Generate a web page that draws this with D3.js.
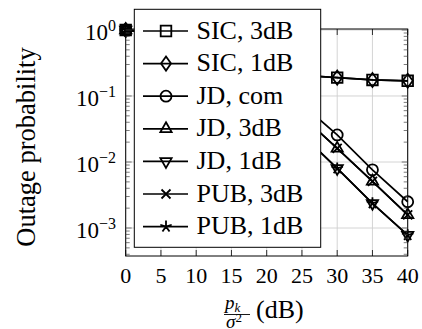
<!DOCTYPE html>
<html><head><meta charset="utf-8">
<script src="https://cdn.jsdelivr.net/npm/d3@7"></script>
<style>
html,body{margin:0;padding:0;background:#fff;}
svg{display:block;}
text{font-family:"Liberation Serif","Times New Roman",serif;fill:#000;}
</style></head>
<body>
<svg id="chart" width="422" height="329"></svg>
<script>
// ---- data ----
const snr = [0, 5, 10, 15, 20, 25, 30, 35, 40];
const sic3dB = [1, 0.85, 0.55, 0.35, 0.25, 0.205, 0.19, 0.175, 0.17];
const sic1dB = [1, 0.85, 0.55, 0.35, 0.25, 0.205, 0.19, 0.175, 0.17];
const jdCom  = [1, 0.95, 0.75, 0.5, 0.22, 0.075, 0.0257, 0.0076, 0.0025];
const jd3dB  = [1, 0.9, 0.65, 0.35, 0.15, 0.05, 0.0161, 0.0051, 0.00158];
const jd1dB  = [1, 0.85, 0.5, 0.22, 0.08, 0.026, 0.008, 0.00237, 0.00078];
const pub3dB = [1, 0.9, 0.65, 0.35, 0.15, 0.05, 0.0161, 0.0051, 0.00158];
const pub1dB = [1, 0.85, 0.5, 0.22, 0.08, 0.026, 0.008, 0.00237, 0.00078];
const seriesNames = ["SIC, 3dB", "SIC, 1dB", "JD, com", "JD, 3dB", "JD, 1dB", "PUB, 3dB", "PUB, 1dB"];
const seriesMarks = ["square", "diamond", "circle", "triUp", "triDown", "cross", "star"];
const xTicks = [0, 5, 10, 15, 20, 25, 30, 35, 40];
const yTickExps = [0, -1, -2, -3];

const seriesValues = [sic3dB, sic1dB, jdCom, jd3dB, jd1dB, pub3dB, pub1dB];

// ---- layout ----
const L = 125.7, R = 407.7, T = 29, B = 256;
const svg = d3.select("#chart");
const x = d3.scaleLinear().domain([0, 40]).range([L, R]);
const y = d3.scaleLog().domain([Math.pow(10, -3.424), Math.pow(10, 0.015)]).range([B, T]);

// grid
const grid = svg.append("g").attr("stroke", "#cfcfcf").attr("stroke-width", 0.9);
xTicks.forEach(t => grid.append("line").attr("x1", x(t)).attr("x2", x(t)).attr("y1", T).attr("y2", B));
yTickExps.forEach(e => grid.append("line").attr("x1", L).attr("x2", R).attr("y1", y(Math.pow(10, e))).attr("y2", y(Math.pow(10, e))));

// markers
function markerPath(kind) {
  const p = d3.path();
  if (kind === "square") { p.rect(-5.3, -5.3, 10.6, 10.6); }
  else if (kind === "diamond") { p.moveTo(0, -7); p.lineTo(5, 0); p.lineTo(0, 7); p.lineTo(-5, 0); p.closePath(); }
  else if (kind === "circle") { p.moveTo(5.5, 0); p.arc(0, 0, 5.5, 0, 2 * Math.PI); }
  else if (kind === "triUp" || kind === "triDown") {
    const s = kind === "triUp" ? -1 : 1, r = 6.5;
    p.moveTo(0, s * r);
    p.lineTo(r * Math.cos(Math.PI / 6), -s * r * 0.5);
    p.lineTo(-r * Math.cos(Math.PI / 6), -s * r * 0.5);
    p.closePath();
  }
  else if (kind === "cross") { const r = 4.5; p.moveTo(-r, -r); p.lineTo(r, r); p.moveTo(-r, r); p.lineTo(r, -r); }
  else if (kind === "star") {
    const r = 6;
    for (let k = 0; k < 5; k++) { const a = -Math.PI / 2 + k * 2 * Math.PI / 5; p.moveTo(0, 0); p.lineTo(r * Math.cos(a), r * Math.sin(a)); }
  }
  return p.toString();
}

const line = d3.line().x(d => x(d[0])).y(d => y(d[1]));
const plot = svg.append("g");
seriesValues.forEach((vals, i) => {
  const pts = snr.map((s, j) => [s, vals[j]]);
  plot.append("path").attr("d", line(pts)).attr("fill", "none").attr("stroke", "#000").attr("stroke-width", 1.7);
  plot.selectAll(null).data(pts).enter().append("path")
    .attr("transform", d => `translate(${x(d[0])},${y(d[1])})`)
    .attr("d", markerPath(seriesMarks[i]))
    .attr("fill", "none").attr("stroke", "#000").attr("stroke-width", 1.8);
});

// axes frame & ticks
const ax = svg.append("g").attr("stroke", "#000");
ax.append("rect").attr("x", L).attr("y", T).attr("width", R - L).attr("height", B - T).attr("fill", "none").attr("stroke-width", 1);
xTicks.forEach(t => {
  ax.append("line").attr("x1", x(t)).attr("x2", x(t)).attr("y1", B).attr("y2", B - 6).attr("stroke-width", 0.8);
  ax.append("line").attr("x1", x(t)).attr("x2", x(t)).attr("y1", T).attr("y2", T + 6).attr("stroke-width", 0.8);
});
const [ymin, ymax] = y.domain();
for (let e = -4; e <= 0; e++) {
  for (let m = 1; m <= 9; m++) {
    const v = m * Math.pow(10, e);
    if (v < ymin || v > ymax) continue;
    const len = m === 1 ? 6 : 4;
    ax.append("line").attr("x1", L).attr("x2", L + len).attr("y1", y(v)).attr("y2", y(v)).attr("stroke-width", 0.7).attr("stroke", "#444");
    ax.append("line").attr("x1", R).attr("x2", R - len).attr("y1", y(v)).attr("y2", y(v)).attr("stroke-width", 0.7).attr("stroke", "#444");
  }
}

// tick labels
svg.append("g").selectAll("text").data(xTicks).enter().append("text")
  .attr("x", d => x(d)).attr("y", 283).attr("text-anchor", "middle")
  .attr("font-size", 22).text(d => d);
const yl = svg.append("g");
yTickExps.forEach(e => {
  const t = yl.append("text").attr("x", 116).attr("y", y(Math.pow(10, e)) + 10).attr("text-anchor", "end").attr("font-size", 23);
  t.append("tspan").text("10");
  t.append("tspan").attr("dy", -9).attr("font-size", 16).text(e === 0 ? "0" : "\u2212" + (-e));
});

// axis titles
svg.append("text").attr("transform", "translate(35,147) rotate(-90)").attr("text-anchor", "middle")
  .attr("font-size", 26.5).text("Outage probability");
const xt = svg.append("g");
xt.append("text").attr("x", 225).attr("y", 309).attr("font-size", 19).attr("font-style", "italic")
  .text("p").append("tspan").attr("dy", 3).attr("font-size", 13).text("k");
xt.append("line").attr("x1", 224).attr("x2", 250).attr("y1", 314.5).attr("y2", 314.5).attr("stroke", "#000").attr("stroke-width", 0.9);
xt.append("text").attr("x", 226).attr("y", 327.5).attr("font-size", 19).attr("font-style", "italic")
  .text("σ").append("tspan").attr("dy", -6).attr("font-size", 13).attr("font-style", "normal").text("2");
xt.append("text").attr("x", 256).attr("y", 318).attr("font-size", 26).text("(dB)");

// legend
const lg = svg.append("g");
lg.append("rect").attr("x", 134.3).attr("y", 9.3).attr("width", 186.4).attr("height", 238).attr("fill", "#fff").attr("stroke", "#000").attr("stroke-width", 1);
seriesNames.forEach((name, i) => {
  const cy = 31 + i * 32.6;
  lg.append("line").attr("x1", 143).attr("x2", 188).attr("y1", cy).attr("y2", cy).attr("stroke", "#000").attr("stroke-width", 1.7);
  lg.append("path").attr("transform", `translate(166,${cy})`).attr("d", markerPath(seriesMarks[i]))
    .attr("fill", "none").attr("stroke", "#000").attr("stroke-width", 1.8);
  lg.append("text").attr("x", 196.5).attr("y", cy + 7.5).attr("font-size", 26).text(name);
});
</script>
</body></html>
